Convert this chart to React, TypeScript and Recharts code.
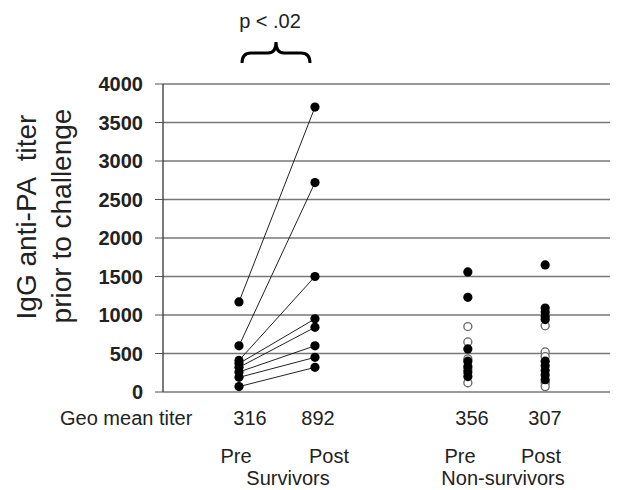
import { ComposedChart, Scatter, XAxis, YAxis, CartesianGrid } from "recharts";

// x position of each group on a 0–100 axis
const groupX = [17, 34, 68.2, 85.5];
const yTicks = [0, 500, 1000, 1500, 2000, 2500, 3000, 3500, 4000];

// survivors, paired pre -> post
const survivorPre = [1170, 600, 410, 370, 320, 260, 190, 70];
const survivorPost = [3700, 2720, 1500, 950, 840, 600, 450, 320];

// non-survivors
const nsPreFilled = [1560, 1230, 560, 400, 330, 260, 200];
const nsPreOpen = [850, 650, 430, 300, 120];
const nsPostFilled = [1650, 1090, 1040, 980, 940, 400, 340, 280, 220, 160];
const nsPostOpen = [860, 520, 460, 120, 70];

const geoMeans = ["316", "892", "356", "307"];

const FONT = "'Liberation Sans', Arial, sans-serif";

const pairs = survivorPre.map((v, i) => [
  { x: groupX[0], y: v },
  { x: groupX[1], y: survivorPost[i] },
]);
const toPts = (vals: number[], x: number) => vals.map((y) => ({ x, y }));

const Filled = (p: any) => <circle cx={p.cx} cy={p.cy} r={4.6} fill="#000" />;
const Open = (p: any) => (
  <circle cx={p.cx} cy={p.cy} r={4} fill="#fff" stroke="#666" strokeWidth={1.3} />
);

export default function App() {
  return (
    <div style={{ position: "absolute", left: 0, top: 0, width: 625, height: 490, background: "#fff" }}>
      <ComposedChart width={625} height={490} margin={{ top: 84, right: 15, bottom: 98, left: 0 }}>
        <CartesianGrid vertical={false} stroke="#777" strokeWidth={1.6} />
        <XAxis type="number" dataKey="x" domain={[0, 100]} hide />
        <YAxis
          type="number"
          dataKey="y"
          width={163}
          domain={[0, 4000]}
          ticks={yTicks}
          tickSize={8}
          tickMargin={12}
          axisLine={{ stroke: "#222", strokeWidth: 1.2 }}
          tickLine={{ stroke: "#555" }}
          tick={{ fontFamily: FONT, fontSize: 20, fontWeight: "bold", fill: "#222" }}
        />
        {pairs.map((d, i) => (
          <Scatter
            key={i}
            data={d}
            line={{ stroke: "#222", strokeWidth: 1 }}
            shape={Filled}
            isAnimationActive={false}
          />
        ))}
        <Scatter data={toPts(nsPreOpen, groupX[2])} shape={Open} isAnimationActive={false} />
        <Scatter data={toPts(nsPostOpen, groupX[3])} shape={Open} isAnimationActive={false} />
        <Scatter data={toPts(nsPreFilled, groupX[2])} shape={Filled} isAnimationActive={false} />
        <Scatter data={toPts(nsPostFilled, groupX[3])} shape={Filled} isAnimationActive={false} />
      </ComposedChart>
      <svg
        width={625}
        height={490}
        style={{ position: "absolute", left: 0, top: 0, pointerEvents: "none" }}
        fontFamily={FONT}
        fill="#222"
      >
        <text transform="translate(36,217) rotate(-90)" textAnchor="middle" fontSize={28}>
          IgG anti-PA{"\u00a0\u00a0"}titer
        </text>
        <text transform="translate(71,216) rotate(-90)" textAnchor="middle" fontSize={28}>
          prior to challenge
        </text>
        <text x={270} y={28} textAnchor="middle" fontSize={20}>
          p &lt; .02
        </text>
        <path
          d="M242,63 Q242,53 251,53 L268,53 Q276,53 276,42 Q276,53 284,53 L301,53 Q310,53 310,63"
          fill="none"
          stroke="#000"
          strokeWidth={3}
        />
        <text x={60} y={425} fontSize={20}>
          Geo mean titer
        </text>
        <text x={250} y={425} textAnchor="middle" fontSize={20}>{geoMeans[0]}</text>
        <text x={318} y={425} textAnchor="middle" fontSize={20}>{geoMeans[1]}</text>
        <text x={472} y={425} textAnchor="middle" fontSize={20}>{geoMeans[2]}</text>
        <text x={545} y={425} textAnchor="middle" fontSize={20}>{geoMeans[3]}</text>
        <text x={236} y={463} textAnchor="middle" fontSize={20}>Pre</text>
        <text x={329} y={463} textAnchor="middle" fontSize={20}>Post</text>
        <text x={460} y={463} textAnchor="middle" fontSize={20}>Pre</text>
        <text x={541} y={463} textAnchor="middle" fontSize={20}>Post</text>
        <text x={288} y={485} textAnchor="middle" fontSize={20}>Survivors</text>
        <text x={503} y={485} textAnchor="middle" fontSize={20}>Non-survivors</text>
      </svg>
    </div>
  );
}
